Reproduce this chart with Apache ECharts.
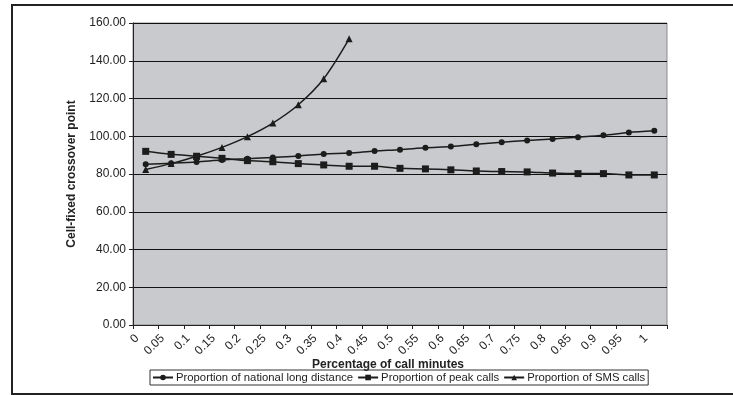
<!DOCTYPE html>
<html>
<head>
<meta charset="utf-8">
<title>Cell-fixed crossover point</title>
<script src="https://cdn.jsdelivr.net/npm/echarts@6/dist/echarts.min.js"></script>
<style>
    html, body { margin: 0; padding: 0; background: #fff; }
    #main { width: 733px; height: 395px; }
</style>
</head>
<body>
<div id="main"></div>
<script>
// x categories: percentage of call minutes
var categories = ['0', '0.05', '0.1', '0.15', '0.2', '0.25', '0.3', '0.35', '0.4', '0.45', '0.5',
    '0.55', '0.6', '0.65', '0.7', '0.75', '0.8', '0.85', '0.9', '0.95', '1'];

// series values
var nationalLongDistance = [85.1, 85.7, 86.4, 87.4, 88.1, 88.8, 89.5, 90.6, 91.1, 92.2, 92.9,
    93.9, 94.6, 95.7, 96.8, 97.8, 98.6, 99.5, 100.5, 102.0, 102.9];
var peakCalls = [92.0, 90.4, 89.4, 88.3, 87.1, 86.5, 85.5, 84.8, 84.1, 84.1, 83.0,
    82.7, 82.2, 81.6, 81.3, 81.1, 80.5, 80.2, 80.2, 79.5, 79.5];
var smsCalls = [82.4, 85.5, 89.4, 94.1, 99.8, 107.0, 116.7, 130.5, 151.6];

var seriesNames = ['Proportion of national long distance', 'Proportion of peak calls', 'Proportion of SMS calls'];

var yMin = 0;
var yMax = 160;
var yStep = 20;

var myChart = echarts.init(document.getElementById('main'));

function makeSeries(name, data, symbol, size) {
    return {
        name: name,
        type: 'line',
        data: data,
        smooth: 0.3,
        symbol: symbol,
        symbolSize: size,
        showAllSymbol: true,
        lineStyle: { color: '#1c1c1c', width: 1.5 },
        itemStyle: { color: '#1c1c1c', borderWidth: 0 },
        emphasis: { disabled: true },
        animation: false
    };
}

myChart.setOption({
    animation: false,
    textStyle: { fontFamily: 'Liberation Sans, Arial, sans-serif' },
    grid: {
        left: 133,
        right: 66,
        top: 23,
        bottom: 70,
        show: true,
        backgroundColor: '#c9cacd',
        borderColor: '#8a8a8a',
        borderWidth: 1
    },
    legend: {
        data: seriesNames,
        left: 150,
        top: 370,
        orient: 'horizontal',
        borderColor: '#333',
        borderWidth: 1,
        borderRadius: 0,
        padding: [2, 3, 2, 2],
        itemGap: 4,
        itemWidth: 20,
        itemHeight: 7,
        textStyle: { fontSize: 11.3, color: '#222', padding: [0, 0, 0, -2] }
    },
    xAxis: {
        type: 'category',
        data: categories,
        boundaryGap: true,
        axisLine: { lineStyle: { color: '#222', width: 1 } },
        axisTick: { show: true, interval: 0, length: 4, inside: false, lineStyle: { color: '#222' } },
        // right padding pulls the rotated labels left, like the original
        axisLabel: { interval: 0, rotate: 45, fontSize: 12, color: '#222', margin: 3, padding: [0, 12, 0, 0] },
        splitLine: { show: false }
    },
    yAxis: {
        type: 'value',
        min: yMin,
        max: yMax,
        interval: yStep,
        axisLine: { show: true, lineStyle: { color: '#222', width: 1 } },
        axisTick: { show: true, length: 4, lineStyle: { color: '#222' } },
        axisLabel: {
            fontSize: 12,
            color: '#222',
            margin: 7,
            formatter: function(v) { return v.toFixed(2); }
        },
        splitLine: { show: true, lineStyle: { color: '#111', width: 1 } }
    },
    graphic: [
        {
            // outer chart border
            type: 'rect',
            shape: { x: 12, y: 5, width: 760, height: 389 },
            style: { fill: 'none', stroke: '#222', lineWidth: 2 },
            silent: true
        },
        {
            type: 'text',
            x: 72,
            y: 174,
            rotation: Math.PI / 2,
            style: {
                text: 'Cell-fixed crossover point',
                fontSize: 12,
                fontWeight: 'bold',
                fill: '#222',
                align: 'center',
                verticalAlign: 'middle'
            }
        },
        {
            type: 'text',
            x: 388,
            y: 365,
            style: {
                text: 'Percentage of call minutes',
                fontSize: 12,
                fontWeight: 'bold',
                fill: '#222',
                align: 'center',
                verticalAlign: 'middle'
            }
        }
    ],
    series: [
        makeSeries(seriesNames[0], nationalLongDistance, 'circle', 6),
        makeSeries(seriesNames[1], peakCalls, 'rect', 7),
        makeSeries(seriesNames[2], smsCalls, 'triangle', 7)
    ]
});
</script>
</body>
</html>
